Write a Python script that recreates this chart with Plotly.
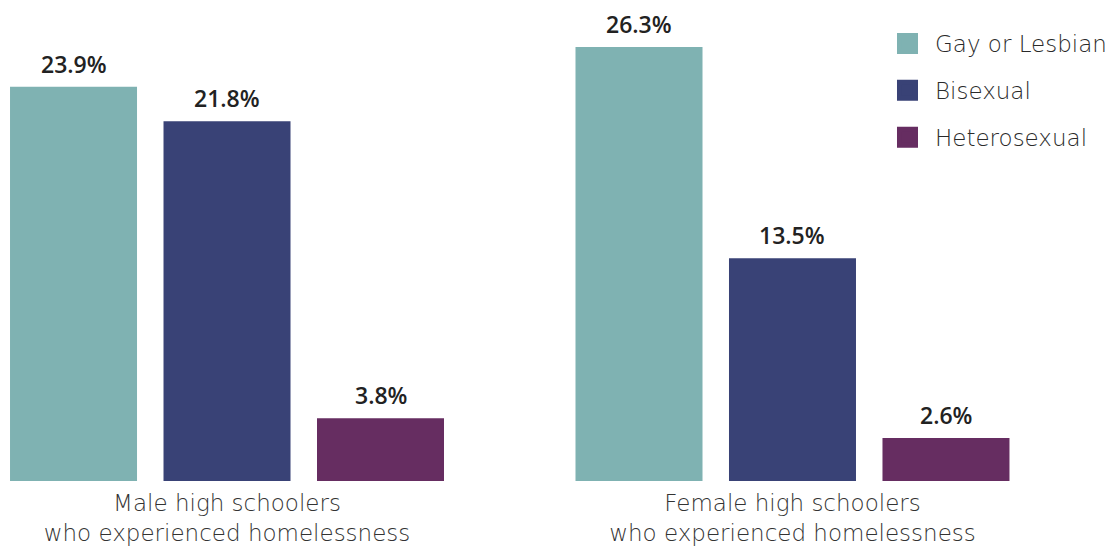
import plotly.graph_objects as go

categories = ["Male high schoolers<br>who experienced homelessness",
              "Female high schoolers<br>who experienced homelessness"]
series_names = ["Gay or Lesbian", "Bisexual", "Heterosexual"]
gay_lesbian = [23.9, 26.3]
bisexual = [21.8, 13.5]
heterosexual = [3.8, 2.6]

series_values = [gay_lesbian, bisexual, heterosexual]
colors = ["#7FB2B2", "#394276", "#662D61"]
label_xshift = [-153.5, 0, 153.5]

fig = go.Figure()
for name, vals, col in zip(series_names, series_values, colors):
    fig.add_trace(go.Bar(
        x=categories, y=vals, name=name,
        marker=dict(color=col, line=dict(width=0)),
        showlegend=False, legendgroup=name,
    ))
# legend entries (square swatches)
for name, col in zip(series_names, colors):
    fig.add_trace(go.Scatter(
        x=[None], y=[None], mode="markers", name=name, legendgroup=name,
        marker=dict(symbol="square", size=16, color=col, line=dict(color=col, width=5)),
        showlegend=True,
    ))

annotations = []
for vals, dx in zip(series_values, label_xshift):
    for cat, v in zip(categories, vals):
        annotations.append(dict(
            x=cat, y=v, xref="x", yref="y", text=f"{v:.1f}%",
            showarrow=False, xanchor="center", yanchor="bottom",
            xshift=dx, yshift=6, borderpad=0,
            font=dict(family="Open Sans", size=23, color="#222222", weight=600),
        ))

fig.update_layout(
    width=1108, height=538,
    margin=dict(l=0, r=0, t=0, b=65, autoexpand=False),
    paper_bgcolor="white", plot_bgcolor="white",
    barmode="group", bargap=0.1857, bargroupgap=0.1726,
    showlegend=True,
    legend=dict(x=0.787, y=0.9704, xanchor="left", yanchor="top",
                font=dict(family="DejaVu Sans", size=23, color="#2a2a2a", weight=300),
                traceorder="grouped", tracegroupgap=14, itemwidth=45,
                bgcolor="rgba(0,0,0,0)"),
    xaxis=dict(range=[-0.3873, 1.5721], showgrid=False, zeroline=False, showline=False,
               ticks="", automargin=False, ticklabelstandoff=6,
               tickfont=dict(family="DejaVu Sans", size=23, color="#333333", weight=300)),
    yaxis=dict(range=[0, 28.667], visible=False, automargin=False),
    annotations=annotations,
)

fig.write_html("out.html")
